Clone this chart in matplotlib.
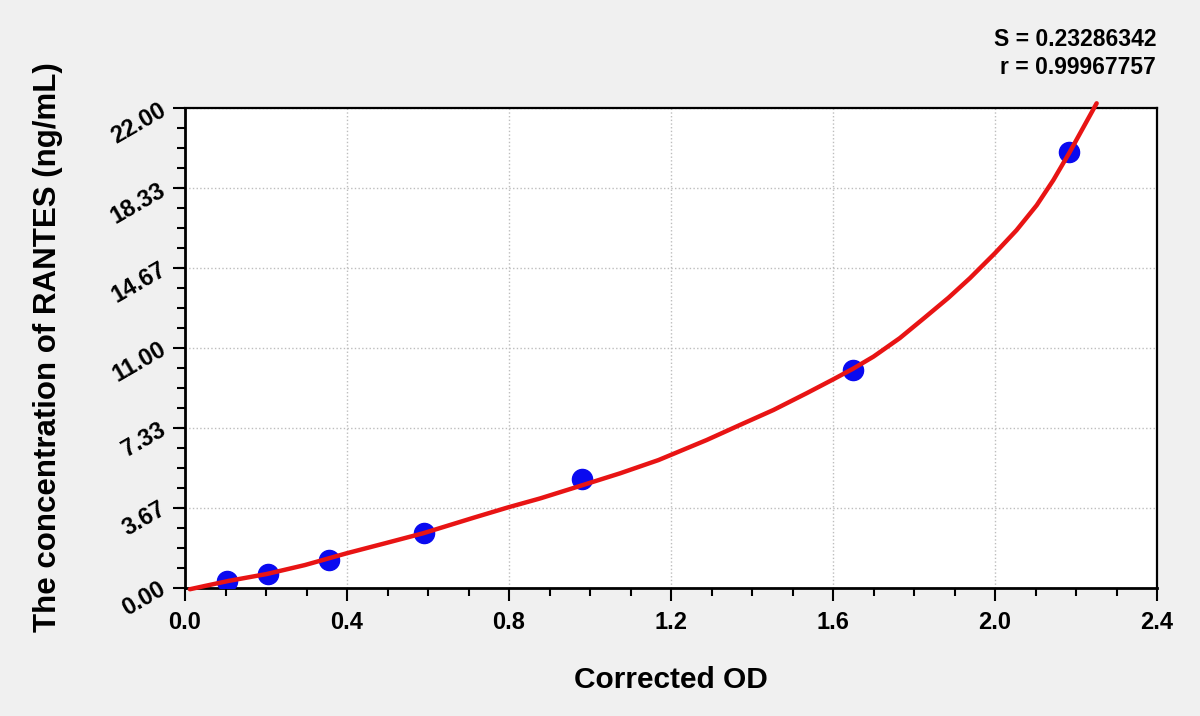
import matplotlib.pyplot as plt
from matplotlib.ticker import MultipleLocator, FixedLocator
import numpy as np

plt.rcParams['font.family'] = ['Liberation Sans', 'DejaVu Sans']
plt.rcParams['font.weight'] = 'bold'

# standards: corrected OD vs concentration
od = [0.104, 0.206, 0.356, 0.590, 0.980, 1.650, 2.183]
conc = [0.3125, 0.625, 1.25, 2.5, 5.0, 10.0, 20.0]

# fitted curve
curve_od = [0.012, 0.049, 0.107, 0.202, 0.296, 0.399, 0.494, 0.588, 0.712,
            0.798, 0.877, 0.975, 1.074, 1.169, 1.288, 1.370, 1.453, 1.535,
            1.601, 1.650, 1.700, 1.765, 1.827, 1.885, 1.938, 2.0, 2.053,
            2.103, 2.144, 2.183, 2.251]
curve_conc = [-0.08, 0.07, 0.30, 0.62, 1.03, 1.57, 2.03, 2.49, 3.20,
              3.68, 4.09, 4.66, 5.24, 5.85, 6.77, 7.46, 8.15, 8.92,
              9.56, 10.05, 10.6, 11.45, 12.4, 13.3, 14.2, 15.35, 16.4,
              17.55, 18.7, 19.94, 22.23]

yticks = [0.0, 3.67, 7.33, 11.0, 14.67, 18.33, 22.0]
ytick_labels = ['0.00', '3.67', '7.33', '11.00', '14.67', '18.33', '22.00']
xticks = [0.0, 0.4, 0.8, 1.2, 1.6, 2.0, 2.4]
xtick_labels = ['0.0', '0.4', '0.8', '1.2', '1.6', '2.0', '2.4']

fit_text = ['S = 0.23286342', 'r = 0.99967757']

W, H = 1200, 716
fig = plt.figure(figsize=(W / 100, H / 100), dpi=100, facecolor='#f0f0f0')
x0, x1, ytop, ybot = 185, 1157, 108.3, 587.5
ax = fig.add_axes([x0 / W, (H - ybot) / H, (x1 - x0) / W, (ybot - ytop) / H])
ax.set_facecolor('white')

ax.plot(od, conc, 'o', color='#0a0af0', markersize=14.5, zorder=3)
ax.plot(curve_od, curve_conc, '-', color='#e81414', lw=3.2, zorder=4,
        clip_on=False, solid_capstyle='round', solid_joinstyle='round')

ax.set_xlim(0, 2.4)
ax.set_ylim(0, 22)
ax.set_xticks(xticks)
ax.set_xticklabels(xtick_labels, fontsize=17, fontweight='bold')
ax.set_yticks(yticks)
ax.set_yticklabels(ytick_labels, fontsize=17, fontweight='bold',
                   rotation=30, rotation_mode='anchor', ha='right', va='center')
ax.xaxis.set_minor_locator(MultipleLocator(0.1))
ax.yaxis.set_minor_locator(FixedLocator(np.linspace(0, 22, 25)))
ax.tick_params(which='major', direction='out', length=9, width=1.5, color='black')
ax.tick_params(which='minor', direction='out', length=6, width=1.5, color='black')
ax.tick_params(axis='x', pad=8)
ax.tick_params(axis='y', pad=6)

ax.grid(True, which='major', color='#bdbdbd', linestyle=':', linewidth=1)
for s in ax.spines.values():
    s.set_linewidth(1.6)
    s.set_color('black')
ax.spines['left'].set_linewidth(2)
ax.spines['bottom'].set_linewidth(2)

fig.text(671 / W, 1 - 680 / H, 'Corrected OD', fontsize=21.5, fontweight='bold',
         ha='center', va='center')
fig.text(48 / W, 1 - 347 / H, 'The concentration of RANTES (ng/mL)', fontsize=22.5,
         fontweight='bold', rotation=90, ha='center', va='center')
fig.text(1156 / W, 1 - 39 / H, fit_text[0], fontsize=16.5, fontweight='bold',
         ha='right', va='center')
fig.text(1156 / W, 1 - 68 / H, fit_text[1], fontsize=16.5, fontweight='bold',
         ha='right', va='center')

fig.savefig('out.png', dpi=100, facecolor=fig.get_facecolor())
